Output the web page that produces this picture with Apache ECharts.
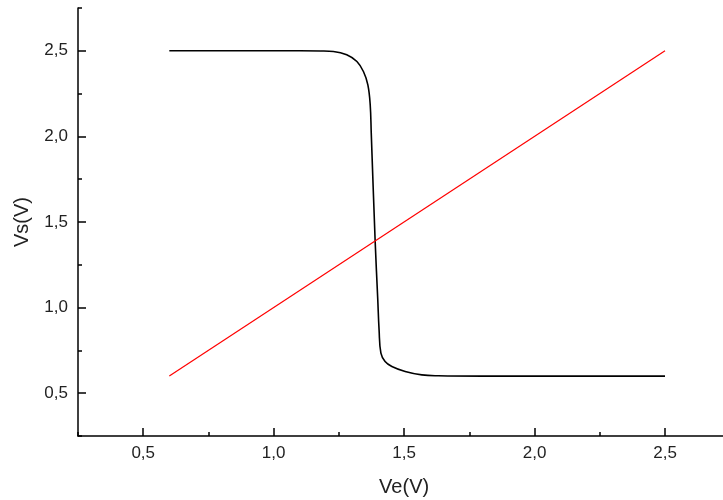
<!DOCTYPE html>
<html><head><meta charset="utf-8">
<script src="https://cdn.jsdelivr.net/npm/echarts@6/dist/echarts.min.js"></script>
<style>html,body{margin:0;padding:0;background:#fff}#c{width:723px;height:500px}</style>
</head><body><div id="c"></div>
<script>
// Inverter transfer curve Vs(Ve)
const veCurve = [0.6, 0.9, 1.1, 1.18, 1.229, 1.28, 1.319, 1.344, 1.361, 1.370, 1.374, 1.389, 1.399, 1.404, 1.411, 1.427, 1.453, 1.504, 1.568, 1.631, 1.8, 2.5];
const vsCurve = [2.5, 2.5, 2.5, 2.499, 2.496, 2.477, 2.4375, 2.379, 2.301, 2.185, 2.019, 1.386, 1.046, 0.870, 0.734, 0.685, 0.656, 0.627, 0.607, 0.602, 0.6, 0.6];
// Identity line Vs = Ve
const veLine = [0.6, 2.5];
const vsLine = [0.6, 2.5];
const majorTicks = [0.5, 1.0, 1.5, 2.0, 2.5];

const fmt = v => {
  if (Math.abs(v * 2 - Math.round(v * 2)) > 1e-6) return '';
  return v.toFixed(1).replace('.', ',');
};
const FONT = 'Liberation Sans, Arial, sans-serif';
const labelStyle = {color: '#222', fontSize: 17, fontFamily: FONT};
const lineStyle = {color: '#000', width: 1.5};

const chart = echarts.init(document.getElementById('c'), null, {renderer: 'canvas'});
chart.setOption({
  animation: false,
  backgroundColor: '#fff',
  grid: {left: 78, top: 8, bottom: 64, right: -7.25, containLabel: false, outerBoundsMode: 'none'},
  xAxis: [
    {type: 'value', min: 0.25, max: 2.75, interval: 0.25, position: 'bottom',
     name: 'Ve(V)', nameLocation: 'middle', nameGap: 41,
     nameTextStyle: {color: '#222', fontSize: 20, fontFamily: FONT},
     axisLine: {show: true, lineStyle: lineStyle},
     axisTick: {show: true, inside: true, length: 4, lineStyle: {color: '#000', width: 1.5}},
     axisLabel: Object.assign({formatter: fmt, margin: 9, showMinLabel: true, showMaxLabel: true}, labelStyle),
     splitLine: {show: false}},
    {type: 'value', min: 0.25, max: 2.75, position: 'bottom',
     axisLine: {show: false},
     axisTick: {show: true, inside: true, length: 8, customValues: majorTicks, lineStyle: {color: '#000', width: 1.5}},
     axisLabel: {show: false},
     splitLine: {show: false}}
  ],
  yAxis: [
    {type: 'value', min: 0.25, max: 2.75, interval: 0.25, position: 'left',
     name: 'Vs(V)', nameLocation: 'middle', nameGap: 46,
     nameTextStyle: {color: '#222', fontSize: 20, fontFamily: FONT},
     axisLine: {show: true, lineStyle: lineStyle},
     axisTick: {show: true, inside: true, length: 4, lineStyle: {color: '#000', width: 1.5}},
     axisLabel: Object.assign({formatter: fmt, margin: 10, showMinLabel: true, showMaxLabel: true}, labelStyle),
     splitLine: {show: false}},
    {type: 'value', min: 0.25, max: 2.75, position: 'left',
     axisLine: {show: false},
     axisTick: {show: true, inside: true, length: 8, customValues: majorTicks, lineStyle: {color: '#000', width: 1.5}},
     axisLabel: {show: false},
     splitLine: {show: false}}
  ],
  series: [
    {type: 'line', name: 'Vs', xAxisIndex: 0, yAxisIndex: 0,
     data: veCurve.map((x, i) => [x, vsCurve[i]]),
     showSymbol: false, smooth: 0.4,
     lineStyle: {color: '#000', width: 1.6}},
    {type: 'line', name: 'Ve', xAxisIndex: 0, yAxisIndex: 0,
     data: veLine.map((x, i) => [x, vsLine[i]]),
     showSymbol: false,
     lineStyle: {color: '#ff0000', width: 1.2}}
  ]
});
</script></body></html>
